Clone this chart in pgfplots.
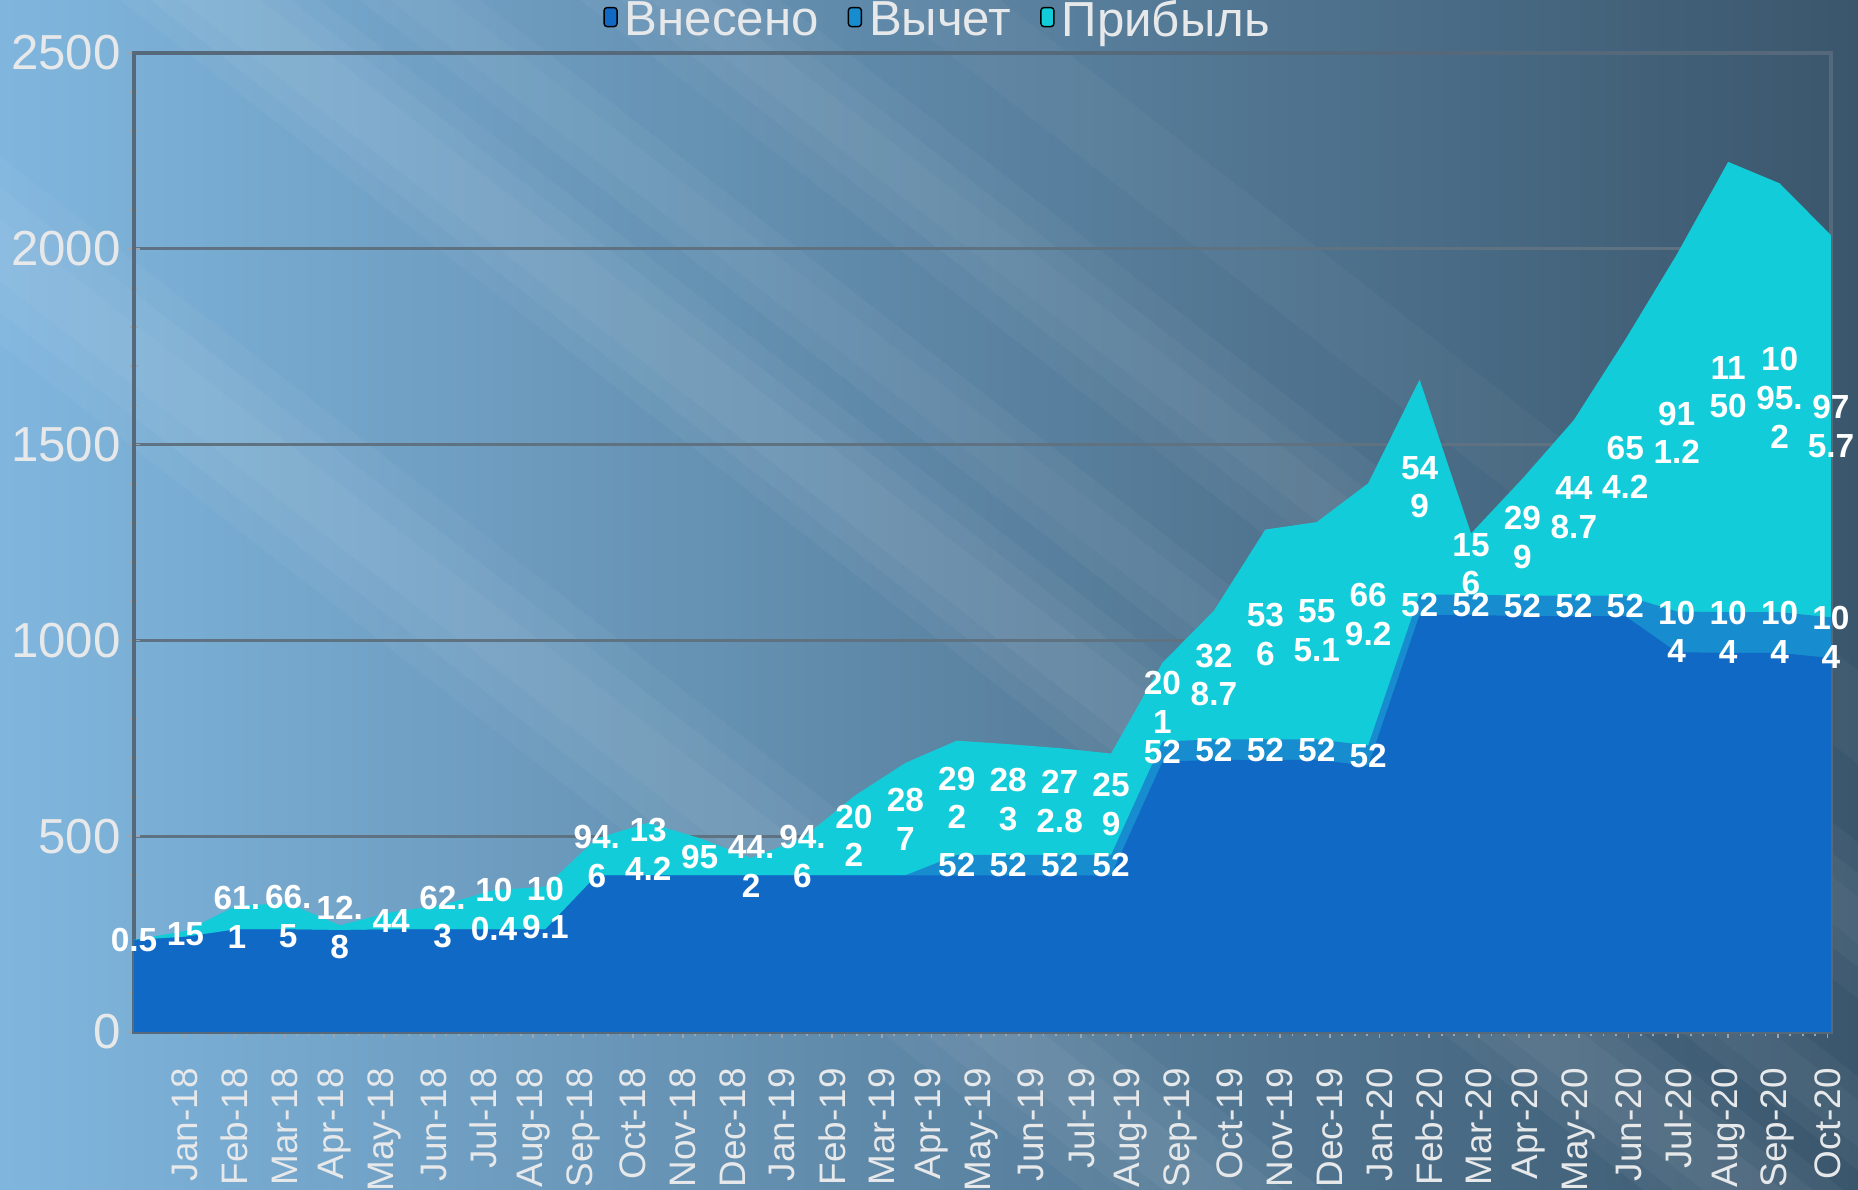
\documentclass[border=0pt]{standalone}
\usepackage{fontspec}
\setmainfont{Liberation Sans}
\usepackage{pgfplots}
\pgfplotsset{compat=1.18}
\usepackage{pgfplotstable}

\definecolor{vncol}{HTML}{1169C6}
\definecolor{vycol}{HTML}{178DD0}
\definecolor{prcol}{HTML}{12CDD9}
\definecolor{bgL}{HTML}{80B6DE}
\definecolor{bgM}{HTML}{4F7894}
\definecolor{bgR}{HTML}{3A566C}
\definecolor{gridc}{HTML}{5E7282}
\definecolor{axc}{HTML}{56697A}
\definecolor{ticktext}{HTML}{E6E8EA}

\pgfplotstableread{
i vn vy pr lp lv
0 235 0 0.5 {0.5} -
1 243 0 15 {15} -
2 262 0 61.1 {61.\\1} -
3 262 0 66.5 {66.\\5} -
4 260 0 12.8 {12.\\8} -
5 262 0 44 {44} -
6 262 0 62.3 {62.\\3} -
7 262 0 100.4 {10\\0.4} -
8 262 0 109.1 {10\\9.1} -
9 400 0 94.6 {94.\\6} -
10 400 0 134.2 {13\\4.2} -
11 400 0 95 {95} -
12 400 0 44.2 {44.\\2} -
13 400 0 94.6 {94.\\6} -
14 400 0 202 {20\\2} -
15 400 0 287 {28\\7} -
16 400 52 292 {29\\2} {52}
17 400 52 283 {28\\3} {52}
18 400 52 272.8 {27\\2.8} {52}
19 400 52 259 {25\\9} {52}
20 690 52 201 {20\\1} {52}
21 695 52 328.7 {32\\8.7} {52}
22 695 52 536 {53\\6} {52}
23 695 52 555.1 {55\\5.1} {52}
24 680 52 669.2 {66\\9.2} {52}
25 1065 52 549 {54\\9} {52}
26 1065 52 156 {15\\6} {52}
27 1062 52 299 {29\\9} {52}
28 1062 52 448.7 {44\\8.7} {52}
29 1062 52 654.2 {65\\4.2} {52}
30 970 104 911.2 {91\\1.2} {10\\4}
31 968 104 1150 {11\\50} {10\\4}
32 968 104 1095.2 {10\\95.\\2} {10\\4}
33 955 104 975.7 {97\\5.7} {10\\4}
}\data

\begin{document}
\begin{tikzpicture}
\useasboundingbox (0mm,0mm) rectangle (185.8mm,119mm);
\begin{scope}
\clip (0mm,0mm) rectangle (185.8mm,119mm);
\shade[left color=bgL, middle color=bgM, right color=bgR] (0mm,0mm) rectangle (185.8mm,119mm);
\foreach \x/\w/\o in {-44/24/0.04, -40/16/0.04, -36/8/0.04, 12/20/0.04, 15/14/0.04, 18/8/0.04, 36/12/0.04, 39/6/0.03, 58/20/0.035, 62/12/0.035, 65/6/0.03, 88/12/0.03} {
  \fill[white, opacity=\o] (\x mm,119mm) -- ++(\w mm,0) -- ++(-38:260mm) -- ++(-\w mm,0) -- cycle;
}
\end{scope}
\begin{axis}[
  at={(13.4mm,15.8mm)}, anchor=south west,
  scale only axis, width=169.7mm, height=97.9mm,
  xmin=0, xmax=33, ymin=0, ymax=2500,
  clip=false,
  axis line style={draw=axc, line width=1.1pt},
  xtick pos=lower, ytick pos=left,
  ytick={0,500,...,2500},
  minor y tick num=4,
  ymajorgrids,
  major grid style={draw=gridc, line width=0.9pt},
  tick align=center,
  major tick length=1.2mm, minor tick length=0.8mm,
  every tick/.style={draw=axc!60!white, line width=0.5pt},
  xtick={0.99,1.958,...,32.94},
  xticklabels={Jan-18,Feb-18,Mar-18,Apr-18,May-18,Jun-18,Jul-18,Aug-18,Sep-18,Oct-18,Nov-18,Dec-18,Jan-19,Feb-19,Mar-19,Apr-19,May-19,Jun-19,Jul-19,Aug-19,Sep-19,Oct-19,Nov-19,Dec-19,Jan-20,Feb-20,Mar-20,Apr-20,May-20,Jun-20,Jul-20,Aug-20,Sep-20,Oct-20},
  minor x tick num=3,
  x tick label style={rotate=90, anchor=east, font=\fontsize{10.5}{12}\selectfont, text=ticktext},
  xticklabel shift=1.8mm,
  y tick label style={font=\fontsize{14}{16}\selectfont, text=ticktext, xshift=0.5mm},
  /pgf/number format/.cd, set thousands separator={}, assume math mode=true,
  /pgfplots/.cd,
  legend style={at={(0.475,1)}, anchor=south, draw=none, fill=none,
    legend columns=3, font=\fontsize{14}{15}\selectfont, text=ticktext,
    /tikz/every even column/.append style={column sep=2.2mm}, inner sep=0pt, yshift=0.3mm},
  legend cell align=left,
  legend image code/.code={\fill[#1, rounded corners=0.3mm] (0mm,-0.5mm) rectangle (1.3mm,1.4mm);},
]
\addlegendimage{fill=vncol}
\addlegendentry{Внесено}
\addlegendimage{fill=vycol}
\addlegendentry{Вычет}
\addlegendimage{fill=prcol}
\addlegendentry{Прибыль}

\addplot[fill=prcol, draw=none, forget plot] table[x=i, y expr=\thisrow{vn}+\thisrow{vy}+\thisrow{pr}] {\data} \closedcycle;
\addplot[fill=vycol, draw=none, forget plot] table[x=i, y expr=\thisrow{vn}+\thisrow{vy}] {\data} \closedcycle;
\addplot[fill=vncol, draw=none, forget plot] table[x=i, y=vn] {\data} \closedcycle;

\addplot[draw=none, mark=none, forget plot, nodes near coords, point meta=explicit symbolic,
  every node near coord/.style={anchor=center, align=center, text=white, inner sep=0pt,
    font=\bfseries\fontsize{9.5}{11}\selectfont}]
  table[x=i, y expr=\thisrow{vn}+\thisrow{vy}+0.5*\thisrow{pr}, meta=lp] {\data};
\addplot[draw=none, mark=none, forget plot, nodes near coords, point meta=explicit symbolic,
  skip coords between index={0}{16},
  every node near coord/.style={anchor=center, align=center, text=white, inner sep=0pt,
    font=\bfseries\fontsize{9.5}{11}\selectfont}]
  table[x=i, y expr=\thisrow{vn}+0.5*\thisrow{vy}, meta=lv] {\data};
\end{axis}
\end{tikzpicture}
\end{document}
